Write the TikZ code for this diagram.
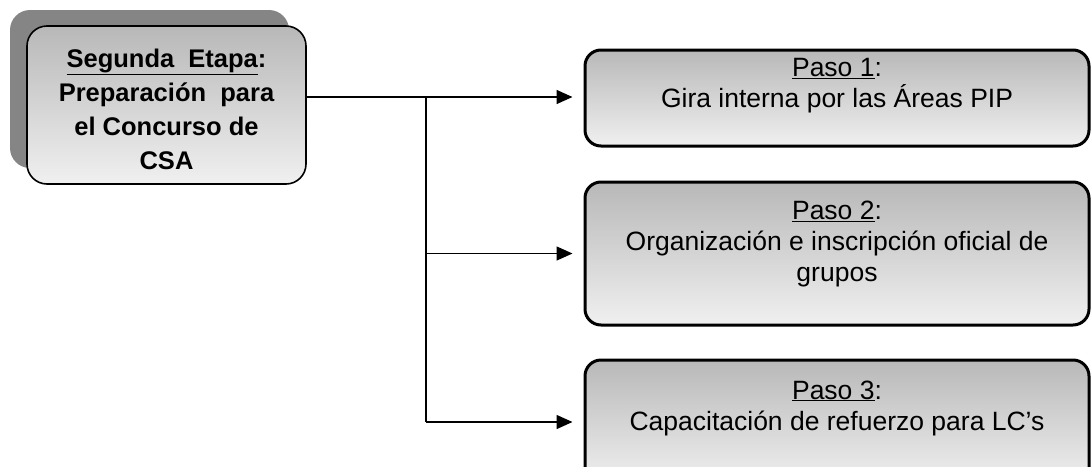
\documentclass[tikz,border=0pt]{standalone}
\usepackage{fontspec}
\setmainfont{Liberation Sans}
\usetikzlibrary{arrows.meta}
\definecolor{shadowgray}{HTML}{858585}
\definecolor{gradtop}{HTML}{B8B8B8}
\definecolor{gradbot}{HTML}{F0F0F0}
\tikzset{
  mainbox/.style={rounded corners=20pt, draw=black, line width=1.6pt,
    top color=gradtop, bottom color=gradbot, minimum width=279pt, minimum height=158pt, inner sep=0pt},
  shadowbox/.style={rounded corners=20pt, fill=shadowgray, minimum width=279pt, minimum height=158pt, inner sep=0pt},
  stepbox/.style={rounded corners=16pt, draw=black, line width=3pt,
    top color=gradtop, bottom color=gradbot, minimum width=504pt, inner sep=0pt},
  steptext/.style={align=center, font=\fontsize{26.5}{31}\selectfont},
  maintext/.style={align=center, inner sep=0pt, font=\bfseries\fontsize{25.5}{28.3}\selectfont},
  conn/.style={line width=1.5pt, draw=black},
  arr/.style={conn, -{Triangle[length=16pt,width=14pt]}, shorten >=11pt}
}
\begin{document}
\begin{tikzpicture}[x=1pt,y=-1pt]
\useasboundingbox (0,0) rectangle (1091,466);
\node[shadowbox] (shadow) at (149.5,89) {};
\node[mainbox] (main) at (166.5,105) {};
\node[maintext, anchor=north] (maintxt) at (166.5,49) {\underline{Segunda\ \ Etapa}:\\[5.5pt]Preparación\ \ para\\[5.5pt]el Concurso de\\[5.5pt]CSA};
\node[stepbox, minimum height=96pt] (s1) at (837,98) {};
\node[stepbox, minimum height=143pt] (s2) at (837,253.5) {};
\node[stepbox, minimum height=124pt] (s3) at (837,422) {};
\node[steptext] (t1) at (837,86) {\underline{Paso 1}:\\Gira interna por las Áreas PIP};
\node[steptext] (t2) at (837,244) {\underline{Paso 2}:\\Organización e inscripción oficial de\\grupos};
\node[steptext] (t3) at (837,408) {\underline{Paso 3}:\\Capacitación de refuerzo para LC’s};
\coordinate (j1) at (426,97);
\coordinate (j3) at (426,422);
\draw[arr] (main.east |- j1) -- (s1.west |- j1);
\draw[conn] (j1) -- (j3);
\draw[arr] (j1 |- s2.west) -- (s2.west);
\draw[arr] (j3) -- (s3.west |- j3);
\end{tikzpicture}
\end{document}
